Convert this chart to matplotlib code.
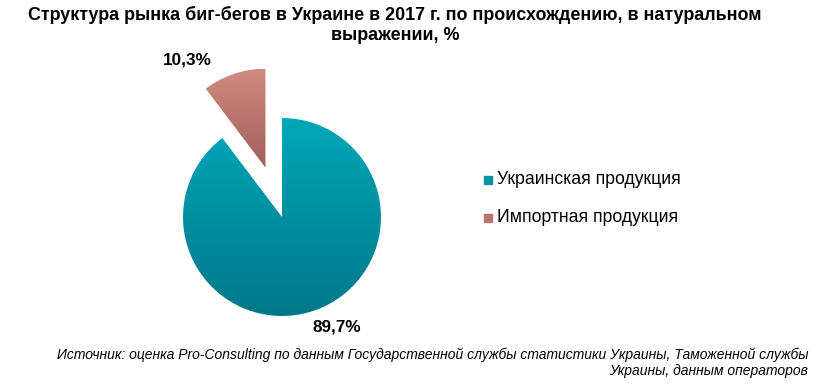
import matplotlib.pyplot as plt
from matplotlib.colors import LinearSegmentedColormap
import numpy as np

plt.rcParams['font.family'] = ['Liberation Sans', 'DejaVu Sans']

title = 'Структура рынка биг-бегов в Украине в 2017 г. по происхождению, в натуральном\nвыражении, %'
categories = ['Украинская продукция', 'Импортная продукция']
shares = [89.7, 10.3]
share_labels = ['89,7%', '10,3%']
source = ('Источник: оценка Pro-Consulting по данным Государственной службы статистики Украины, Таможенной службы\n'
          'Украины, данным операторов')

# top / bottom colours of the vertical gradients
grad_top = ['#00a8b8', '#d18a80']
grad_bot = ['#00788a', '#a0605a']
legend_cols = ['#0093a3', '#b87570']

W, H = 822, 388
fig = plt.figure(figsize=(W / 100, H / 100), dpi=100)

# pie axes: 1 data unit = 100 px, centre at (282, 217) px
cx, cy, half = 282, 217, 160
ax = fig.add_axes([(cx - half) / W, (H - cy - half) / H, 2 * half / W, 2 * half / H])
ax.set_xlim(-1.6, 1.6)
ax.set_ylim(-1.6, 1.6)
ax.set_aspect('equal')
ax.axis('off')

wedges, _ = ax.pie(shares, startangle=90, counterclock=False, radius=0.99,
                   explode=[0, 0.52], labels=None)

for w, top, bot in zip(wedges, grad_top, grad_bot):
    w.set_facecolor('none')
    w.set_edgecolor('none')
    cmap = LinearSegmentedColormap.from_list('g', [top, bot])
    verts = w.get_path().vertices
    x0, x1 = verts[:, 0].min(), verts[:, 0].max()
    y0, y1 = verts[:, 1].min(), verts[:, 1].max()
    grad = np.linspace(0, 1, 256).reshape(-1, 1)
    im = ax.imshow(grad, cmap=cmap, extent=[x0, x1, y0, y1], origin='upper',
                   aspect='auto', interpolation='bilinear', zorder=1)
    im.set_clip_path(w)

ax.set_xlim(-1.6, 1.6)
ax.set_ylim(-1.6, 1.6)

ax.text(0.55, -1.10, share_labels[0], ha='center', va='center', fontsize=12.3, fontweight='bold')
ax.text(-0.95, 1.57, share_labels[1], ha='center', va='center', fontsize=12.3, fontweight='bold', clip_on=False)

fig.text(395 / W, 1 - 25 / H, title, ha='center', va='center', fontsize=12.9,
         fontweight='bold', linespacing=1.3)

for i, (lab, col) in enumerate(zip(categories, legend_cols)):
    y = [180, 218][i]
    fig.patches.append(plt.Rectangle((484 / W, 1 - (y + 4) / H), 8 / W, 8 / H,
                                     transform=fig.transFigure, color=col))
    fig.text(497 / W, 1 - y / H, lab, ha='left', va='center', fontsize=12.7)

fig.text(808 / W, 1 - 363 / H, source, ha='right', va='center', fontsize=10.0,
         style='italic', multialignment='right', linespacing=1.2)

fig.savefig('out.png', dpi=100, facecolor='white')
